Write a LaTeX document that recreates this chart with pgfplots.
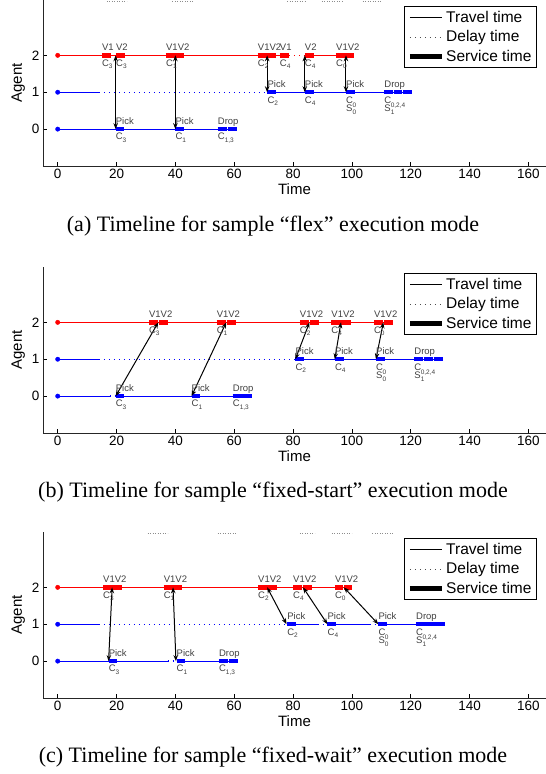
\documentclass[border=0pt]{standalone}
\usepackage{fontspec}
\setmainfont{Liberation Sans}
\newfontfamily\capfont{Liberation Serif}
\usepackage{pgfplots}
\pgfplotsset{compat=1.18}
\usetikzlibrary{arrows.meta}
\newcommand\sub[1]{\raisebox{-0.5ex}{\fontsize{6.5}{7}\selectfont #1}}
\newcommand\ssx[2]{S\rlap{\raisebox{0.75ex}{\fontsize{6.5}{7}\selectfont #1}}\raisebox{-0.5ex}{\fontsize{6.5}{7}\selectfont #2}}
\newcommand\Lu[3]{\node[lbl,anchor=base west,yshift=4.5pt] at (axis cs:#1,#2) {#3};}
\newcommand\Ld[3]{\node[lbl,anchor=north west,yshift=-4pt] at (axis cs:#1,#2) {#3};}
\tikzset{
  lbl/.style={font=\fontsize{9.5}{8.5}\selectfont, text=black!75, inner sep=0pt, align=left},
  trav/.style={line width=1pt},
  dly/.style={line width=1.3pt, dash pattern=on 1.3pt off 3.7pt},
  serv/.style={line width=4.5pt},
  arr/.style={black, line width=1pt, {Stealth[length=6pt,width=4.5pt]}-{Stealth[length=6pt,width=4.5pt]}},
  frag/.style={black!45, line width=0.8pt, dash pattern=on 1pt off 1.5pt},
  capt/.style={font=\capfont\fontsize{22}{22}\selectfont},
}
\pgfplotsset{
  tlaxis/.style={
    scale only axis, width=503pt, height=166pt,
    xmin=-5, xmax=166, ymin=-1, ymax=3.5,
    axis x line*=bottom, axis y line*=left,
    axis line style={-, black!85, line width=0.8pt},
    xtick={0,20,...,160}, ytick={0,1,2},
    tick align=inside, major tick length=4pt,
    tick style={black, line width=0.6pt},
    xlabel={Time}, ylabel={Agent},
    ticklabel style={font=\fontsize{13.5}{13.5}\selectfont},
    label style={font=\fontsize{15}{15}\selectfont},
    xlabel style={yshift=2pt},
    /pgf/number format/assume math mode=true,
    clip=false,
    unbounded coords=jump,
    legend style={at={(rel axis cs:1,1)}, anchor=north east, xshift=-9pt, yshift=-6pt,
      draw=black, line width=1pt, fill=white,
      font=\fontsize{15.5}{16}\selectfont, inner xsep=3pt, inner ysep=3pt, row sep=2.5pt,
      cells={anchor=west}},
    legend image code/.code={\draw[##1] (0pt,0pt) -- (32pt,0pt);},
  }
}
\begin{document}
\begin{tikzpicture}
\useasboundingbox (0,0) rectangle (546pt,-774pt);
% ---------------- (a) ----------------
\begin{axis}[tlaxis, at={(43pt,-166pt)}, anchor=south west]
\addlegendimage{black, line width=0.8pt}\addlegendentry{Travel time}
\addlegendimage{black!70, line width=1pt, dash pattern=on 1pt off 4pt}\addlegendentry{Delay time}
\addlegendimage{black, line width=4.5pt}\addlegendentry{Service time}
\addplot[frag, forget plot] coordinates {(16.7,3.45)(23.5,3.45)(24,nan)(39,3.45)(46,3.45)(46,nan)(78,3.45)(84.7,3.45)(85,nan)(89.8,3.45)(97,3.45)(97,nan)(103.7,3.45)(110,3.45)};
\addplot[red, trav, forget plot] coordinates {(0,2)(78.6,2)(80,nan)(84,2)(100.7,2)};
\addplot[red, dly, forget plot] coordinates {(78.6,2)(84,2)};
\addplot[red, serv, forget plot] coordinates {(15,2)(18,2)(18,nan)(19.8,2)(22.8,2)(23,nan)(36.8,2)(39.8,2)(39.8,nan)(40,2)(43,2)(43,nan)(68,2)(71,2)(71,nan)(71.2,2)(74.1,2)(74.5,nan)(75.5,2)(78.6,2)(79,nan)(84,2)(87,2)(87,nan)(94.6,2)(97.5,2)(97.5,nan)(97.7,2)(100.7,2)};
\addplot[red, only marks, mark=*, mark size=2.2pt, forget plot] coordinates {(0,2)};
\addplot[blue, trav, forget plot] coordinates {(0,1)(14,1)(20,nan)(71.3,1)(120.4,1)};
\addplot[blue, dly, forget plot] coordinates {(14,1)(71.3,1)};
\addplot[blue, serv, forget plot] coordinates {(71.3,1)(74.3,1)(75,nan)(84,1)(87,1)(88,nan)(98,1)(101,1)(102,nan)(111,1)(114,1)(114,nan)(114.2,1)(117.2,1)(117.2,nan)(117.4,1)(120.4,1)};
\addplot[blue, only marks, mark=*, mark size=2.2pt, forget plot] coordinates {(0,1)};
\addplot[blue, trav, forget plot] coordinates {(0,0)(61,0)};
\addplot[blue, serv, forget plot] coordinates {(19.7,0)(22.7,0)(23,nan)(40,0)(43,0)(44,nan)(54.4,0)(57.6,0)(57.6,nan)(57.8,0)(61,0)};
\addplot[blue, only marks, mark=*, mark size=2.2pt, forget plot] coordinates {(0,0)};
\addplot[arr, forget plot] coordinates {(19.7,2)(19.7,0)};
\addplot[arr, forget plot] coordinates {(40,2)(40,0)};
\addplot[arr, forget plot] coordinates {(71.2,2)(71.2,1)};
\addplot[arr, forget plot] coordinates {(84,2)(84,1)};
\addplot[arr, forget plot] coordinates {(98,2)(98,1)};
\Lu{15}{2}{V1}\Lu{19.8}{2}{V2}\Lu{36.8}{2}{V1V2}\Lu{68}{2}{V1V2}\Lu{75.5}{2}{V1}\Lu{84}{2}{V2}\Lu{94.6}{2}{V1V2}
\Ld{15}{2}{C\sub{3}}\Ld{19.8}{2}{C\sub{3}}\Ld{36.8}{2}{C\sub{1}}\Ld{68}{2}{C\sub{2}}\Ld{75.5}{2}{C\sub{4}}\Ld{84}{2}{C\sub{4}}\Ld{94.6}{2}{C\sub{0}}
\Lu{71.3}{1}{Pick}\Lu{84}{1}{Pick}\Lu{98}{1}{Pick}\Lu{111}{1}{Drop}
\Ld{71.3}{1}{C\sub{2}}\Ld{84}{1}{C\sub{4}}\Ld{98}{1}{C\\\ssx{0}{0}}\Ld{111}{1}{C\\\ssx{0,2,4}{1}}
\Lu{19.7}{0}{Pick}\Lu{40}{0}{Pick}\Lu{54.4}{0}{Drop}
\Ld{19.7}{0}{C\sub{3}}\Ld{40}{0}{C\sub{1}}\Ld{54.4}{0}{C\sub{1,3}}
\end{axis}
\node[capt] at (273pt,-226pt) {(a) Timeline for sample “flex” execution mode};
% ---------------- (b) ----------------
\begin{axis}[tlaxis, at={(43pt,-433pt)}, anchor=south west]
\addlegendimage{black, line width=0.8pt}\addlegendentry{Travel time}
\addlegendimage{black!70, line width=1pt, dash pattern=on 1pt off 4pt}\addlegendentry{Delay time}
\addlegendimage{black, line width=4.5pt}\addlegendentry{Service time}
\addplot[red, trav, forget plot] coordinates {(0,2)(114,2)};
\addplot[red, serv, forget plot] coordinates {(31,2)(34.1,2)(34.1,nan)(34.3,2)(37.4,2)(38,nan)(54,2)(57.2,2)(57.2,nan)(57.4,2)(60.5,2)(61,nan)(82.3,2)(85.5,2)(85.5,nan)(85.7,2)(88.8,2)(89,nan)(93,2)(96.2,2)(96.2,nan)(96.4,2)(99.6,2)(100,nan)(107.5,2)(110.6,2)(110.6,nan)(110.8,2)(114,2)};
\addplot[red, only marks, mark=*, mark size=2.2pt, forget plot] coordinates {(0,2)};
\addplot[blue, trav, forget plot] coordinates {(0,1)(14,1)(20,nan)(80.8,1)(131,1)};
\addplot[blue, dly, forget plot] coordinates {(14,1)(80.8,1)};
\addplot[blue, serv, forget plot] coordinates {(80.8,1)(83.8,1)(84,nan)(94.2,1)(97.2,1)(98,nan)(108.2,1)(111.2,1)(112,nan)(121.2,1)(124.2,1)(124.2,nan)(124.4,1)(127.6,1)(127.6,nan)(127.8,1)(131,1)};
\addplot[blue, only marks, mark=*, mark size=2.2pt, forget plot] coordinates {(0,1)};
\addplot[blue, trav, forget plot] coordinates {(0,0)(17.7,0)(18,nan)(19.7,0)(66,0)};
\addplot[blue, dly, forget plot] coordinates {(17.7,0)(19.7,0)};
\addplot[blue, serv, forget plot] coordinates {(19.7,0)(22.7,0)(23,nan)(45.5,0)(48.5,0)(49,nan)(59.5,0)(62.6,0)(62.6,nan)(62.8,0)(66,0)};
\addplot[blue, only marks, mark=*, mark size=2.2pt, forget plot] coordinates {(0,0)};
\addplot[arr, forget plot] coordinates {(34.2,2)(19.7,0)};
\addplot[arr, forget plot] coordinates {(57.3,2)(45.5,0)};
\addplot[arr, forget plot] coordinates {(85.6,2)(80.8,1)};
\addplot[arr, forget plot] coordinates {(96.3,2)(94.2,1)};
\addplot[arr, forget plot] coordinates {(110.7,2)(108.2,1)};
\Lu{31}{2}{V1V2}\Lu{54}{2}{V1V2}\Lu{82.3}{2}{V1V2}\Lu{93}{2}{V1V2}\Lu{107.5}{2}{V1V2}
\Ld{31}{2}{C\sub{3}}\Ld{54}{2}{C\sub{1}}\Ld{82.3}{2}{C\sub{2}}\Ld{93}{2}{C\sub{4}}\Ld{107.5}{2}{C\sub{0}}
\Lu{80.8}{1}{Pick}\Lu{94.2}{1}{Pick}\Lu{108.2}{1}{Pick}\Lu{121.2}{1}{Drop}
\Ld{80.8}{1}{C\sub{2}}\Ld{94.2}{1}{C\sub{4}}\Ld{108.2}{1}{C\\\ssx{0}{0}}\Ld{121.2}{1}{C\\\ssx{0,2,4}{1}}
\Lu{19.7}{0}{Pick}\Lu{45.5}{0}{Pick}\Lu{59.5}{0}{Drop}
\Ld{19.7}{0}{C\sub{3}}\Ld{45.5}{0}{C\sub{1}}\Ld{59.5}{0}{C\sub{1,3}}
\end{axis}
\node[capt] at (273pt,-492pt) {(b) Timeline for sample “fixed-start” execution mode};
% ---------------- (c) ----------------
\begin{axis}[tlaxis, at={(43pt,-698pt)}, anchor=south west]
\addlegendimage{black, line width=0.8pt}\addlegendentry{Travel time}
\addlegendimage{black!70, line width=1pt, dash pattern=on 1pt off 4pt}\addlegendentry{Delay time}
\addlegendimage{black, line width=4.5pt}\addlegendentry{Service time}
\addplot[frag, forget plot] coordinates {(30.6,3.45)(37.4,3.45)(38,nan)(54.4,3.45)(61,3.45)(61,nan)(82.3,3.45)(87.4,3.45)(88,nan)(93.2,3.45)(100,3.45)(100,nan)(107,3.45)(114,3.45)};
\addplot[red, trav, forget plot] coordinates {(0,2)(100.2,2)};
\addplot[red, serv, forget plot] coordinates {(15.4,2)(18.4,2)(18.4,nan)(18.6,2)(21.7,2)(22,nan)(36,2)(39.1,2)(39.1,nan)(39.3,2)(42.3,2)(43,nan)(68.1,2)(71.1,2)(71.1,nan)(71.3,2)(74.4,2)(75,nan)(80,2)(83.1,2)(83.1,nan)(83.3,2)(86.3,2)(87,nan)(94.2,2)(97.1,2)(97.1,nan)(97.3,2)(100.2,2)};
\addplot[red, only marks, mark=*, mark size=2.2pt, forget plot] coordinates {(0,2)};
\addplot[blue, trav, forget plot] coordinates {(0,1)(14,1)(20,nan)(78,1)(88.4,1)(89,nan)(91.7,1)(106,1)(107,nan)(109,1)(131.6,1)};
\addplot[blue, dly, forget plot] coordinates {(14,1)(78,1)(79,nan)(88.4,1)(91.7,1)(92,nan)(106,1)(109,1)};
\addplot[blue, serv, forget plot] coordinates {(78,1)(81,1)(82,nan)(91.7,1)(94.7,1)(95,nan)(109,1)(112,1)(113,nan)(121.8,1)(124.8,1)(124.8,nan)(125,1)(128.2,1)(128.2,nan)(128.4,1)(131.6,1)};
\addplot[blue, only marks, mark=*, mark size=2.2pt, forget plot] coordinates {(0,1)};
\addplot[blue, trav, forget plot] coordinates {(0,0)(37.4,0)(38,nan)(40.4,0)(61.2,0)};
\addplot[blue, dly, forget plot] coordinates {(37.4,0)(40.4,0)};
\addplot[blue, serv, forget plot] coordinates {(17.3,0)(20.3,0)(21,nan)(40.4,0)(43.4,0)(44,nan)(54.8,0)(57.9,0)(57.9,nan)(58.1,0)(61.2,0)};
\addplot[blue, only marks, mark=*, mark size=2.2pt, forget plot] coordinates {(0,0)};
\addplot[arr, forget plot] coordinates {(18.5,2)(17.3,0)};
\addplot[arr, forget plot] coordinates {(39.2,2)(40.2,0)};
\addplot[arr, forget plot] coordinates {(71.2,2)(77.8,1)};
\addplot[arr, forget plot] coordinates {(83.4,2)(91.7,1)};
\addplot[arr, forget plot] coordinates {(97.3,2)(109,1)};
\Lu{15.4}{2}{V1V2}\Lu{36}{2}{V1V2}\Lu{68.1}{2}{V1V2}\Lu{80}{2}{V1V2}\Lu{94.2}{2}{V1V2}
\Ld{15.4}{2}{C\sub{3}}\Ld{36}{2}{C\sub{1}}\Ld{68.1}{2}{C\sub{2}}\Ld{80}{2}{C\sub{4}}\Ld{94.2}{2}{C\sub{0}}
\Lu{78}{1}{Pick}\Lu{91.7}{1}{Pick}\Lu{109}{1}{Pick}\Lu{121.8}{1}{Drop}
\Ld{78}{1}{C\sub{2}}\Ld{91.7}{1}{C\sub{4}}\Ld{109}{1}{C\\\ssx{0}{0}}\Ld{121.8}{1}{C\\\ssx{0,2,4}{1}}
\Lu{17.3}{0}{Pick}\Lu{40.4}{0}{Pick}\Lu{54.8}{0}{Drop}
\Ld{17.3}{0}{C\sub{3}}\Ld{40.4}{0}{C\sub{1}}\Ld{54.8}{0}{C\sub{1,3}}
\end{axis}
\node[capt] at (273pt,-757pt) {(c) Timeline for sample “fixed-wait” execution mode};
\end{tikzpicture}
\end{document}
